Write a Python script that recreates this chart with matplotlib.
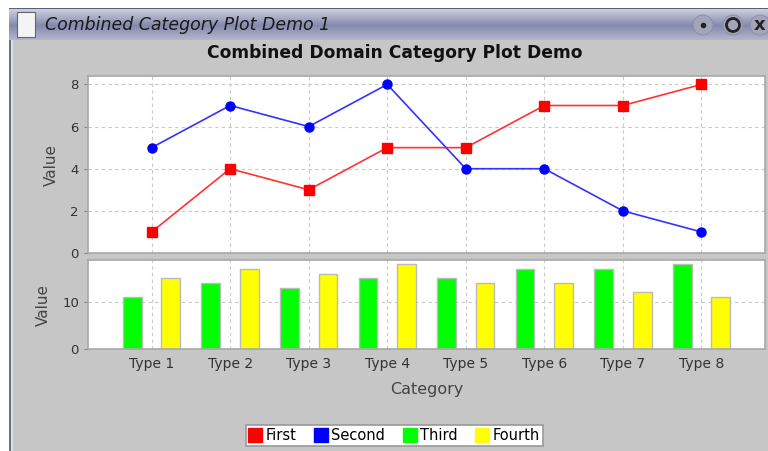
import matplotlib.pyplot as plt
import numpy as np
from matplotlib.patches import Rectangle, Circle
from matplotlib.lines import Line2D

categories = ["Type 1", "Type 2", "Type 3", "Type 4", "Type 5", "Type 6", "Type 7", "Type 8"]
first = [1, 4, 3, 5, 5, 7, 7, 8]
second = [5, 7, 6, 8, 4, 4, 2, 1]
third = [11, 14, 13, 15, 15, 17, 17, 18]
fourth = [15, 17, 16, 18, 14, 14, 12, 11]

W, H = 768, 451
BG = "#c6c6c6"
GRID = "#c8c8c8"
FRAME = "#a8a8a8"

fig = plt.figure(figsize=(W / 100, H / 100), dpi=100)
fig.patch.set_facecolor("white")


def px(x0, y0, x1, y1):
    # pixel box (top-left origin) -> figure fraction rect
    return [x0 / W, 1 - y1 / H, (x1 - x0) / W, (y1 - y0) / H]


# window frame
frame_ax = fig.add_axes([0, 0, 1, 1])
frame_ax.set_xlim(0, W)
frame_ax.set_ylim(H, 0)
frame_ax.axis("off")
frame_ax.add_patch(Rectangle((9, 8), W - 9, H - 8, color=BG, lw=0))
frame_ax.add_patch(Rectangle((9, 8), 1.5, H - 8, color="#6a6f8c", lw=0))
frame_ax.add_patch(Rectangle((10.5, 40), 2.5, H - 40, color="#dcdde6", lw=0))
grad = np.linspace(0, 1, 32)
top_col = np.array([0.82, 0.83, 0.88])
mid_col = np.array([0.52, 0.54, 0.68])
bot_col = np.array([0.70, 0.71, 0.79])
rows = []
for g in grad:
    if g < 0.55:
        c = top_col + (mid_col - top_col) * (g / 0.55)
    else:
        c = mid_col + (bot_col - mid_col) * ((g - 0.55) / 0.45)
    rows.append(c)
img = np.array(rows).reshape(-1, 1, 3)
frame_ax.imshow(img, extent=(9, W, 40, 8), aspect="auto", zorder=1)
frame_ax.add_patch(Rectangle((9, 8), W - 9, 1.2, color="#5a5f7a", lw=0, zorder=2))
# document icon
frame_ax.add_patch(Rectangle((17, 12), 18, 25, facecolor="#f4f4f4", edgecolor="#666666", lw=0.8, zorder=3))
frame_ax.text(45, 25, "Combined Category Plot Demo 1", fontsize=12.5, style="italic",
              color="#1a1a1a", va="center", ha="left", zorder=3)
# title bar buttons
for cx in (703, 733, 760):
    frame_ax.add_patch(Circle((cx, 25), 10, facecolor="#a2a4ba", edgecolor="#8a8ca2", lw=0.6, zorder=3))
frame_ax.plot([703], [25], marker="o", ms=3, color="#222222", zorder=4)
frame_ax.add_patch(Circle((733, 25), 6.5, facecolor="none", edgecolor="#222222", lw=2, zorder=4))
frame_ax.text(760, 25, "x", fontsize=13, fontweight="bold", color="#222222", ha="center", va="center", zorder=4)

fig.text(395 / W, 1 - 53 / H, "Combined Domain Category Plot Demo", ha="center", va="center",
         fontsize=12.3, fontweight="bold", color="#111111")

x = np.arange(len(categories))
xlim = (-0.81, len(categories) - 1 + 0.81)

ax1 = fig.add_axes(px(88, 76, 765, 253))
ax2 = fig.add_axes(px(88, 260, 765, 349))

for ax in (ax1, ax2):
    ax.set_facecolor("white")
    ax.set_xlim(*xlim)
    ax.set_xticks(x)
    ax.grid(True, color=GRID, linestyle=(0, (3, 3)), lw=0.8)
    ax.set_axisbelow(True)
    for s in ax.spines.values():
        s.set_color(FRAME)
        s.set_linewidth(1.2)
    ax.tick_params(axis="both", colors="#888888", labelcolor="#333333", labelsize=9.5, length=3)
    ax.set_ylabel("Value", fontsize=11, color="#444444", labelpad=8)

# top: line plot
ax1.plot(x, first, color="#ff3333", lw=1.2, marker="s", ms=6.5, mfc="red", mec="red")
ax1.plot(x, second, color="#3333ff", lw=1.2, marker="o", ms=6.5, mfc="blue", mec="blue")
ax1.set_ylim(0, 8.4)
ax1.set_yticks([0, 2, 4, 6, 8])
ax1.tick_params(axis="x", labelbottom=False, length=0)

# bottom: bar plot
bw = 0.24
ax2.bar(x - 0.245, third, width=bw, color="#00ff00", edgecolor="#bbbbbb", lw=1)
ax2.bar(x + 0.245, fourth, width=bw, color="#ffff00", edgecolor="#bbbbbb", lw=1)
ax2.set_ylim(0, 18.9)
ax2.set_yticks([0, 10])
ax2.set_xticklabels(categories, fontsize=10)
ax2.tick_params(axis="x", length=0, pad=6)
ax2.set_xlabel("Category", fontsize=11.5, color="#444444", labelpad=8)

handles = [
    Line2D([], [], marker="s", ls="none", color="red", ms=10, label="First"),
    Line2D([], [], marker="s", ls="none", color="blue", ms=10, label="Second"),
    Line2D([], [], marker="s", ls="none", color="#00ff00", ms=10, label="Third"),
    Line2D([], [], marker="s", ls="none", color="yellow", ms=10, label="Fourth"),
]
leg = fig.legend(handles=handles, loc="center", bbox_to_anchor=(394.5 / W, 1 - 435.5 / H), ncol=4,
                 fontsize=10.5, frameon=True, fancybox=False, edgecolor="#999999",
                 facecolor="white", framealpha=1,
                 handlelength=0.8, handletextpad=0.3, columnspacing=1.3, borderpad=0.2,
                 borderaxespad=0)
leg.get_frame().set_linewidth(1.2)

fig.savefig("out.png", dpi=100)
